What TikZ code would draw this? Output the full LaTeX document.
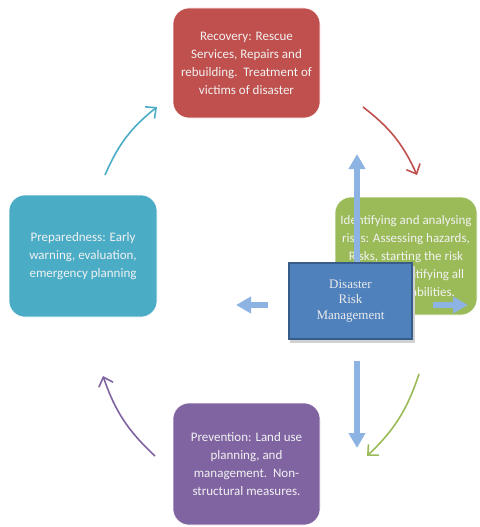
\documentclass[tikz,border=0pt]{standalone}
\usepackage{fontspec}
\setmainfont{Carlito}
\newfontfamily\serifbox{Liberation Serif}
\usetikzlibrary{arrows.meta}
\definecolor{cRed}{HTML}{C0504D}
\definecolor{cGreen}{HTML}{9BBB59}
\definecolor{cCyan}{HTML}{4BACC6}
\definecolor{cPurple}{HTML}{8064A2}
\definecolor{cBlue}{HTML}{4F81BD}
\definecolor{cBlueDark}{HTML}{385D8A}
\definecolor{cArrow}{HTML}{8DB3E2}
\tikzset{
  phase/.style={rounded corners=16pt, draw=white, line width=0.6pt, text=white!95!black,
    align=center, font=\fontsize{13}{18}\selectfont, inner sep=0pt},
  cyc/.style={line width=1.6pt, -{Straight Barb[length=8pt,width=15pt,line width=1.6pt]}, bend left=14},
  bigarrow/.style={cArrow, line width=5.5pt, -{Triangle[length=15pt,width=16pt]}},
}
\begin{document}
\begin{tikzpicture}[x=1pt,y=-1pt]
\useasboundingbox (0,0) rectangle (479,527);
% phase boxes
\node[phase, fill=cRed, minimum width=147pt, minimum height=110pt] (rec) at (246.5,63) {Recovery: Rescue\\Services, Repairs and\\rebuilding.\ \ Treatment of\\victims of disaster};
\node[phase, fill=cGreen, minimum width=142pt, minimum height=118pt] (ide) at (406,256) {Identifying and analysing\\risks: Assessing hazards,\\Risks, starting the risk\\register, identifying all\\the vulnerabilities.};
\node[phase, fill=cCyan, minimum width=148pt, minimum height=122pt] (pre) at (83,256) {Preparedness: Early\\warning, evaluation,\\emergency planning};
\node[phase, fill=cPurple, minimum width=147pt, minimum height=122pt] (prv) at (246.5,464) {Prevention: Land use\\planning, and\\management.\ \ Non-\\structural measures.};
% cycle arrows
\coordinate (c1s) at (105,175); \coordinate (c1e) at (157,107);
\coordinate (c2s) at (363,107); \coordinate (c2e) at (417,175);
\coordinate (c3s) at (419,374); \coordinate (c3e) at (367,456);
\coordinate (c4s) at (155,456); \coordinate (c4e) at (103,376);
\draw[cyc, cCyan] (c1s) to (c1e);
\draw[cyc, cRed] (c2s) to (c2e);
\draw[cyc, cGreen] (c3s) to (c3e);
\draw[cyc, cPurple] (c4s) to (c4e);
% up arrow (behind centre box)
\coordinate (upS) at (357,290); \coordinate (upE) at (357,154);
\draw[bigarrow] (upS) -- (upE);
% centre box
\fill[black!18] (290,266) rectangle (415,343);
\node[fill=cBlue, draw=cBlueDark, line width=2.5pt, minimum width=123pt, minimum height=76pt, inner sep=0pt,
  text=white!92!black, align=center, font=\serifbox\fontsize{13}{15.5}\selectfont] (drm) at (350.5,301) {Disaster\\Risk\\Management};
% other arrows
\coordinate (lS) at (268,305); \coordinate (lE) at (236,305);
\draw[bigarrow] (lS) -- (lE);
\coordinate (rS) at (433,305); \coordinate (rE) at (468,305);
\draw[bigarrow] (rS) -- (rE);
\coordinate (dS) at (357,361); \coordinate (dE) at (357,448);
\draw[bigarrow] (dS) -- (dE);
\end{tikzpicture}
\end{document}
